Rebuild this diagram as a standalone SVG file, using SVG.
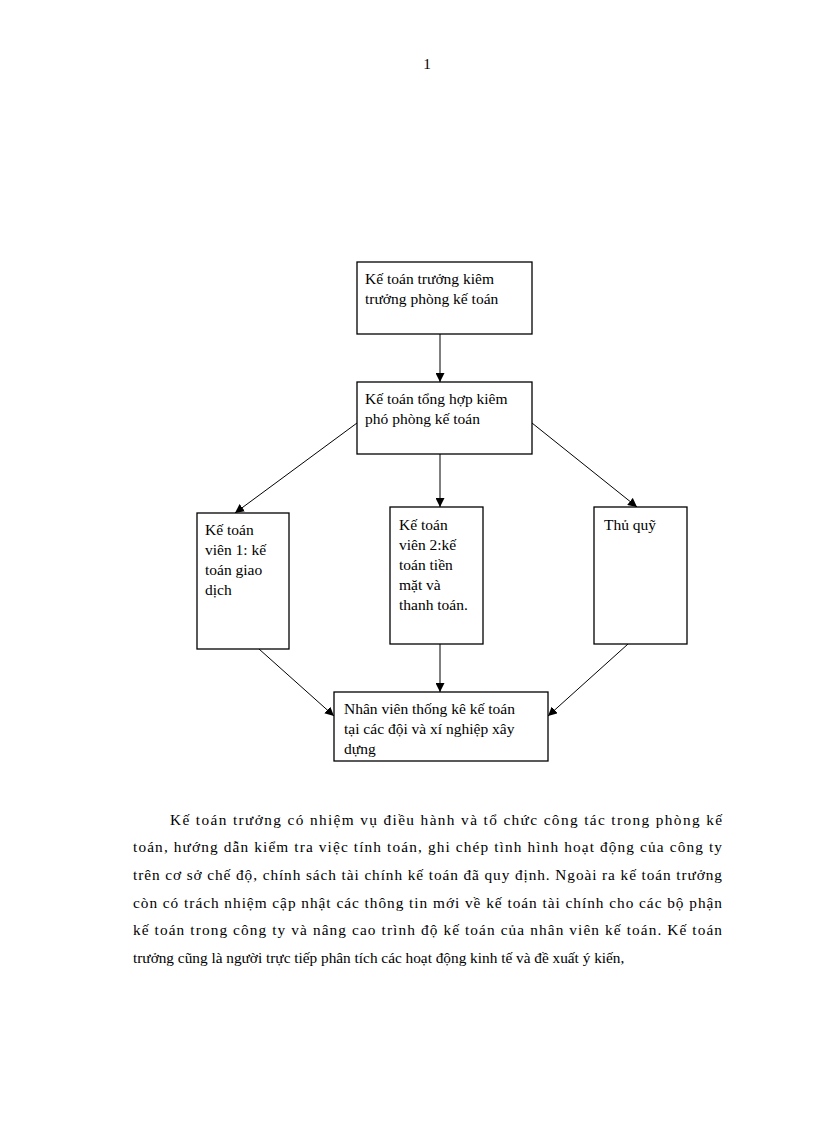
<svg xmlns="http://www.w3.org/2000/svg" width="816" height="1123" viewBox="0 0 816 1123">
<style>
text{font-family:"Liberation Serif","Times New Roman",serif;fill:#000}
.n{font-size:15.5px}
.p{font-size:15.3px}
rect{fill:#fff;stroke:#000;stroke-width:1.3}
.c line{stroke:#000;stroke-width:1}
</style>
<defs>
<marker id="a" viewBox="0 0 10 10" refX="10" refY="5" markerWidth="9" markerHeight="9" markerUnits="userSpaceOnUse" orient="auto">
<path d="M0,0L10,5L0,10z" fill="#000"/>
</marker>
</defs>
<rect width="816" height="1123" style="fill:#fff;stroke:none"/>
<text class="p" x="427" y="69" text-anchor="middle">1</text>
<g class="c">
<line x1="440" y1="334" x2="440" y2="382" marker-end="url(#a)"/>
<line x1="357" y1="423" x2="235" y2="513" marker-end="url(#a)"/>
<line x1="440" y1="454" x2="440" y2="507" marker-end="url(#a)"/>
<line x1="532" y1="423" x2="637" y2="507" marker-end="url(#a)"/>
<line x1="259" y1="649" x2="334" y2="716" marker-end="url(#a)"/>
<line x1="440" y1="644" x2="440" y2="692" marker-end="url(#a)"/>
<line x1="628" y1="644" x2="548" y2="716" marker-end="url(#a)"/>
</g>
<g id="n1">
<rect x="357" y="262" width="175" height="72"/>
<text class="n" x="365" y="284">Kế toán trưởng kiêm</text>
<text class="n" x="365" y="304">trưởng phòng kế toán</text>
</g>
<g id="n2">
<rect x="357" y="382" width="175" height="72"/>
<text class="n" x="365" y="404">Kế toán tổng hợp kiêm</text>
<text class="n" x="365" y="424">phó phòng kế toán</text>
</g>
<g id="n3">
<rect x="197" y="513" width="92" height="136"/>
<text class="n" x="205" y="535">Kế toán</text>
<text class="n" x="205" y="555">viên  1: kế</text>
<text class="n" x="205" y="575">toán giao</text>
<text class="n" x="205" y="595">dịch</text>
</g>
<g id="n4">
<rect x="390" y="507" width="93" height="137"/>
<text class="n" x="399" y="530">Kế toán</text>
<text class="n" x="399" y="550">viên  2:kế</text>
<text class="n" x="399" y="570">toán tiền</text>
<text class="n" x="399" y="590">mặt và</text>
<text class="n" x="399" y="610">thanh  toán.</text>
</g>
<g id="n5">
<rect x="594" y="507" width="93" height="137"/>
<text class="n" x="604" y="530">Thủ  quỹ</text>
</g>
<g id="n6">
<rect x="334" y="692" width="214" height="69"/>
<text class="n" x="344" y="714">Nhân viên  thống  kê kế toán</text>
<text class="n" x="344" y="734">tại  các đội và xí  nghiệp  xây</text>
<text class="n" x="344" y="754">dựng</text>
</g>
<g id="para">
<text class="p" x="170" y="825" textLength="552" lengthAdjust="spacing">Kế toán trưởng có nhiệm vụ điều hành và tổ chức công tác trong phòng kế</text>
<text class="p" x="133" y="852" textLength="589" lengthAdjust="spacing">toán, hướng dẫn kiểm tra việc tính toán, ghi chép tình hình hoạt động của công ty</text>
<text class="p" x="133" y="880" textLength="589" lengthAdjust="spacing">trên cơ sở chế độ, chính sách tài chính kế toán đã quy định. Ngoài ra kế toán trưởng</text>
<text class="p" x="133" y="908" textLength="589" lengthAdjust="spacing">còn có trách nhiệm cập nhật các thông tin mới về kế toán tài chính cho các bộ phận</text>
<text class="p" x="133" y="935" textLength="589" lengthAdjust="spacing">kế toán trong công ty và nâng cao trình độ kế toán của nhân viên kế toán. Kế toán</text>
<text class="p" x="133" y="963">trưởng cũng là người trực tiếp phân tích các hoạt động kinh tế và đề xuất ý kiến,</text>
</g>
</svg>
